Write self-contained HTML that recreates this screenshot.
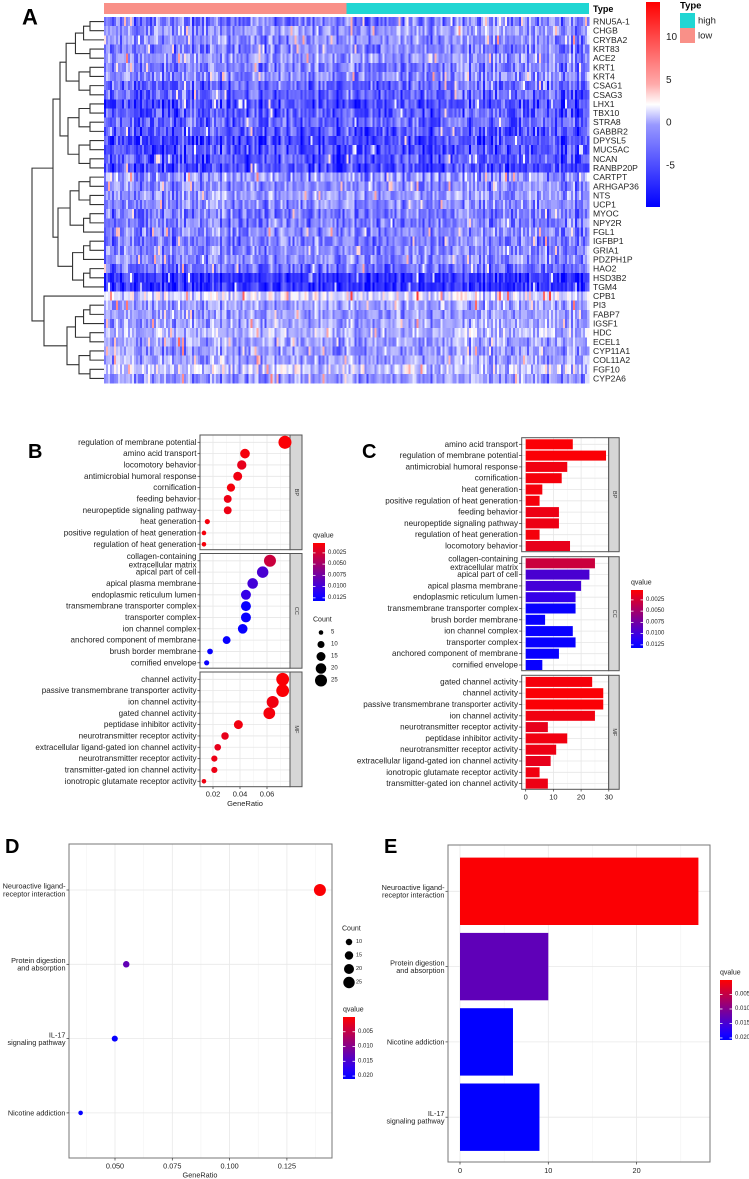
<!DOCTYPE html>
<html><head><meta charset="utf-8"><style>
html,body{margin:0;padding:0;background:#fff;}
body{width:749px;height:1179px;overflow:hidden;position:relative;font-family:"Liberation Sans",Arial,sans-serif;}
svg{position:absolute;left:0;top:0;}
</style></head><body>
<svg id="fig" width="749" height="1179" viewBox="0 0 749 1179" xmlns="http://www.w3.org/2000/svg" font-family="Liberation Sans, Arial, sans-serif"></svg>
<script>
// ---------- DATA ----------
const genes=["RNU5A-1","CHGB","CRYBA2","KRT83","ACE2","KRT1","KRT4","CSAG1","CSAG3","LHX1","TBX10","STRA8","GABBR2","DPYSL5","MUC5AC","NCAN","RANBP20P","CARTPT","ARHGAP36","NTS","UCP1","MYOC","NPY2R","FGL1","IGFBP1","GRIA1","PDZPH1P","HAO2","HSD3B2","TGM4","CPB1","PI3","FABP7","IGSF1","HDC","ECEL1","CYP11A1","COL11A2","FGF10","CYP2A6"];
const geneMeans=[-4,-3,-3.5,-4,-3,-4,-3.5,-5,-5,-6,-5.5,-5,-5.5,-6,-6,-5.5,-6,-3,-3.5,-3,-3.5,-4,-4,-3.5,-4,-3.5,-3.5,-4.5,-7,-7,0,-2.5,-3,-2.5,-1.5,-2.5,-3,-2.5,-1,-3];
const geneSpread=[3,3,3,3,3,3,3,3,3,3,3,3,3,3,3,3,3,4,3,3,3,3,3,3,3,3,3,3,2,2,4,3,3,3,3,3,3,3,4,3];
const heatTicks=[10,5,0,-5];

const bpTerms=["regulation of membrane potential","amino acid transport","locomotory behavior","antimicrobial humoral response","cornification","feeding behavior","neuropeptide signaling pathway","heat generation","positive regulation of heat generation","regulation of heat generation"];
const bpRatio=[0.0733,0.0437,0.0413,0.0383,0.0333,0.0309,0.0309,0.0158,0.0133,0.0133];
const bpCount=[29,17,16,15,13,12,12,6,5,5];
const bpQ=[0.0005,0.0008,0.0015,0.001,0.0008,0.0012,0.0012,0.0008,0.0008,0.0008];
const ccTerms=["collagen-containing\nextracellular matrix","apical part of cell","apical plasma membrane","endoplasmic reticulum lumen","transmembrane transporter complex","transporter complex","ion channel complex","anchored component of membrane","brush border membrane","cornified envelope"];
const ccRatio=[0.0622,0.0568,0.0494,0.0444,0.0444,0.0444,0.042,0.0301,0.0178,0.0153];
const ccCount=[25,23,20,18,18,18,17,12,7,6];
const ccQ=[0.003,0.0095,0.0098,0.0105,0.0128,0.0128,0.0128,0.0128,0.0128,0.0128];
const mfTerms=["channel activity","passive transmembrane transporter activity","ion channel activity","gated channel activity","peptidase inhibitor activity","neurotransmitter receptor activity","extracellular ligand-gated ion channel activity","neurotransmitter receptor activity","transmitter-gated ion channel activity","ionotropic glutamate receptor activity"];
const mfRatio=[0.0716,0.0716,0.0642,0.0617,0.0388,0.0289,0.0235,0.021,0.021,0.0133];
const mfCount=[28,28,25,24,15,11,9,8,8,5];
const mfQ=[0.0005,0.0005,0.001,0.0008,0.001,0.0015,0.0015,0.0012,0.0012,0.001];
const bTicks=[0.02,0.04,0.06];

const cBpTerms=["amino acid transport","regulation of membrane potential","antimicrobial humoral response","cornification","heat generation","positive regulation of heat generation","feeding behavior","neuropeptide signaling pathway","regulation of heat generation","locomotory behavior"];
const cBpCount=[17,29,15,13,6,5,12,12,5,16];
const cBpQ=[0.0005,0.0005,0.001,0.0008,0.0008,0.0008,0.0012,0.0012,0.0008,0.0015];
const cCcTerms=["collagen-containing\nextracellular matrix","apical part of cell","apical plasma membrane","endoplasmic reticulum lumen","transmembrane transporter complex","brush border membrane","ion channel complex","transporter complex","anchored component of membrane","cornified envelope"];
const cCcCount=[25,23,20,18,18,7,17,18,12,6];
const cCcQ=[0.003,0.0095,0.0098,0.0105,0.0128,0.0128,0.0128,0.0128,0.0128,0.0128];
const cMfTerms=["gated channel activity","channel activity","passive transmembrane transporter activity","ion channel activity","neurotransmitter receptor activity","peptidase inhibitor activity","neurotransmitter receptor activity","extracellular ligand-gated ion channel activity","ionotropic glutamate receptor activity","transmitter-gated ion channel activity"];
const cMfCount=[24,28,28,25,8,15,11,9,5,8];
const cMfQ=[0.0008,0.0005,0.0005,0.001,0.0015,0.001,0.0012,0.0015,0.001,0.0012];
const cTicks=[0,10,20,30];

const keggTerms=["Neuroactive ligand-\nreceptor interaction","Protein digestion\nand absorption","IL-17\nsignaling pathway","Nicotine addiction"];
const keggRatio=[0.1394,0.0549,0.0499,0.035];
const keggCount=[27,10,9,6];
const keggQ=[0.0003,0.013,0.0205,0.0205];
const dTicks=[0.05,0.075,0.1,0.125];
const eTerms=["Neuroactive ligand-\nreceptor interaction","Protein digestion\nand absorption","Nicotine addiction","IL-17\nsignaling pathway"];
const eCount=[27,10,6,9];
const eQ=[0.0003,0.013,0.0205,0.0205];
const eTicks=[0,10,20];

// ---------- HELPERS ----------
const NS="http://www.w3.org/2000/svg";
const svg=document.getElementById("fig");
function mk(tag,attrs,parent){const e=document.createElementNS(NS,tag);for(const k in attrs)e.setAttribute(k,attrs[k]);(parent||svg).appendChild(e);return e;}
function txt(x,y,s,size,anchor,parent,extra){
  const lines=String(s).split("\n");const g=[];
  lines.forEach((l,i)=>{const t=mk("text",Object.assign({x:x,y:y+(i-(lines.length-1)/2)*size*1.05,"font-size":size,"text-anchor":anchor||"start","dominant-baseline":"central",fill:"#222"},extra||{}),parent);t.textContent=l;g.push(t);});
  return g[0];
}
function qColor(q,lo,hi){let t=(q-lo)/(hi-lo);t=Math.max(0,Math.min(1,t));const r=Math.round(255*(1-t)),b=Math.round(255*Math.min(1,t*1.15)),gg=0;return `rgb(${r},${gg},${b})`;}
function hash(a,b){let h=(a*374761393+b*668265263)^0x5bd1e995;h=(h^(h>>>13))*1274126177;h=h^(h>>>16);return ((h>>>0)%10000)/10000;}

// ---------- PANEL A: HEATMAP ----------
const gA=mk("g",{});


const lA=txt(22,17,"A",22,"start",gA,{"font-weight":"bold",fill:"#000"});


const HX0=104,HX1=589,HY0=17,nCols=242,rowH=(383-17)/genes.length,colW=(HX1-HX0)/nCols;
const annLow=mk("rect",{x:HX0,y:3,width:(HX1-HX0)/2,height:11,fill:"#f99088"},gA);


const annHigh=mk("rect",{x:HX0+(HX1-HX0)/2,y:3,width:(HX1-HX0)/2,height:11,fill:"#20d6d3"},gA);


const annT=txt(593,9,"Type",9,"start",gA,{"font-weight":"bold",fill:"#000"});


function heatColor(v){if(v<=1){let t=(v+9)/10;t=Math.max(0,Math.min(1,t));const c=Math.round(255*t);return `rgb(${c},${c},255)`;}let t=(v-1)/12;t=Math.max(0,Math.min(1,t));const c=Math.round(255*(1-t));return `rgb(255,${c},${c})`;}
const cells=mk("g",{"shape-rendering":"crispEdges"},gA);


genes.forEach((g,r)=>{
  for(let c=0;c<nCols;c++){
    const n=hash(r+1,c+7)*2-1, sp=hash(c+3,r*31+5), ce=hash(c+11,999)*2-1;
    let v=geneMeans[r]+n*geneSpread[r]*0.75+ce*1.6;
    if(sp>0.97) v+=7;
    const cell=mk("rect",{x:(HX0+c*colW).toFixed(2),y:(HY0+r*rowH).toFixed(2),width:(colW+0.3).toFixed(2),height:(rowH+0.3).toFixed(2),fill:heatColor(v)},cells);
  }
  const gl=txt(HX1+4,HY0+(r+0.5)*rowH,g,8.6,"start",gA,{fill:"#222"});
  
  
});
// dendrogram
const dend=mk("g",{stroke:"#333","stroke-width":1.1,fill:"none"},gA);


function rowY(i){return HY0+(i+0.5)*rowH;}
function build(lo,hi,forceX){
  if(lo===hi) return {x:HX0,y:rowY(lo)};
  const n=hi-lo+1;const mid=Math.floor((lo+hi)/2);
  const a=build(lo,mid),b=build(mid+1,hi);
  const x=forceX!==undefined?forceX:HX0-3-11*Math.log2(n);
  return join(a,b,x);
}
function join(a,b,x){mk("path",{d:`M${a.x},${a.y}H${x}V${b.y}H${b.x}`},dend);return {x:x,y:(a.y+b.y)/2};}
const A1=build(0,16,60),A2=build(17,29,58);
const An=join(A1,A2,53);
const B0={x:HX0,y:rowY(30)};const B1=build(31,39,67);
const Bn=join(B0,B1,44);
join(An,Bn,32);
// color legend
const defs=mk("defs",{});
const lg=mk("linearGradient",{id:"heatgrad",x1:0,y1:1,x2:0,y2:0},defs);
[[0,"#0000ff"],[0.4,"#9898ff"],[0.5,"#ffffff"],[0.6,"#ffaaaa"],[1,"#ff0000"]].forEach(s=>mk("stop",{offset:s[0],"stop-color":s[1]},lg));
const hb=mk("rect",{x:646,y:2,width:14,height:205,fill:"url(#heatgrad)"},gA);


function heatLegY(v){return 123-v*8.55;}
heatTicks.forEach(v=>{const t=txt(666,heatLegY(v),String(v),10,"start",gA,{fill:"#222"});

});
const tt=txt(680,6,"Type",9.5,"start",gA,{"font-weight":"bold",fill:"#000"});


const lh=mk("rect",{x:680,y:13,width:15,height:15,fill:"#20d6d3"},gA);


const ll=mk("rect",{x:680,y:28,width:15,height:15,fill:"#f99088"},gA);


const lht=txt(698,21,"high",9.5,"start",gA);


const llt=txt(698,36,"low",9.5,"start",gA);



// ---------- shared gradient for q legends ----------
const qg=mk("linearGradient",{id:"qgrad",x1:0,y1:0,x2:0,y2:1},defs);
for(let i=0;i<=10;i++)mk("stop",{offset:i/10,"stop-color":qColor(i/10,0,1)},qg);
function qLegend(parent,x,y,h,lo,hi,ticks,fmt,name){
  const t=txt(x,y-7,"qvalue",7,"start",parent);
  
  
  const r=mk("rect",{x:x,y:y,width:12,height:h,fill:"url(#qgrad)"},parent);
  
  
  ticks.forEach(v=>{const yy=y+(v-lo)/(hi-lo)*h;
    mk("line",{x1:x,x2:x+2.5,y1:yy,y2:yy,stroke:"#fff","stroke-width":0.8},parent);
    mk("line",{x1:x+9.5,x2:x+12,y1:yy,y2:yy,stroke:"#fff","stroke-width":0.8},parent);
    const l=txt(x+15,yy,fmt(v),6,"start",parent);
    
    });
}

// ---------- PANEL B ----------
const gB=mk("g",{});


const lB=txt(28,452,"B",20,"start",gB,{"font-weight":"bold",fill:"#000"});


const bx=v=>213+(v-0.02)*1350;
const bR=c=>1.34*Math.sqrt(c)-0.7;
function facetFrame(parent,x0,x1,top,h,strip,label,vgrid,minor,n,step,off){
  mk("rect",{x:x0,y:top,width:x1-x0,height:h,fill:"#fff"},parent);
  minor.forEach(v=>mk("line",{x1:v,x2:v,y1:top,y2:top+h,stroke:"#f2f2f2","stroke-width":0.5},parent));
  vgrid.forEach(v=>mk("line",{x1:v,x2:v,y1:top,y2:top+h,stroke:"#e6e6e6","stroke-width":0.8},parent));
  for(let i=0;i<n;i++){const y=top+off+i*step;mk("line",{x1:x0,x2:x1,y1:y,y2:y,stroke:"#e6e6e6","stroke-width":0.8},parent);}
  mk("rect",{x:x0,y:top,width:x1-x0,height:h,fill:"none",stroke:"#555","stroke-width":1},parent);
  const s=mk("rect",{x:x1,y:top,width:strip,height:h,fill:"#d6d6d6",stroke:"#555","stroke-width":1},parent);
  
  
  const t=txt(0,0,label,5.5,"middle",parent,{transform:`translate(${x1+strip/2},${top+h/2}) rotate(90)`,fill:"#333"});
  
  
}
const bFacets=[[bpTerms,bpRatio,bpCount,bpQ,"BP",435],[ccTerms,ccRatio,ccCount,ccQ,"CC",553.5],[mfTerms,mfRatio,mfCount,mfQ,"MF",672]];
bFacets.forEach(f=>{
  const [terms,ratio,count,q,lab,top]=f;
  facetFrame(gB,200,290,top,114.7,12,lab,bTicks.map(bx),[0.01,0.03,0.05,0.07].map(bx),terms.length,11.33,7.3);
  terms.forEach((t,i)=>{const y=top+7.3+i*11.33;
    mk("line",{x1:197.5,x2:200,y1:y,y2:y,stroke:"#333","stroke-width":0.7},gB);
    const tl=txt(196.5,y,t,8.1,"end",gB,{fill:"#222"});
    
    
    const d=mk("circle",{cx:bx(ratio[i]),cy:y,r:bR(count[i]),fill:qColor(q[i],0.0003,0.0132)},gB);
    
    
  });
});
bTicks.forEach(v=>{mk("line",{x1:bx(v),x2:bx(v),y1:786.7,y2:789,stroke:"#333","stroke-width":0.7},gB);
  const t=txt(bx(v),794,String(v),7.5,"middle",gB);
  
  });
const bxt=txt(245,803.5,"GeneRatio",7.5,"middle",gB);


qLegend(gB,313,543,58,0.0003,0.0132,[0.0025,0.005,0.0075,0.01,0.0125],v=>v.toFixed(4),"b-qvalue-legend");
const bct=txt(313,620,"Count",7,"start",gB);


[5,10,15,20,25].forEach((c,i)=>{const y=632.5+i*12;
  const d=mk("circle",{cx:321,cy:y,r:bR(c),fill:"#000"},gB);
  
  
  const l=txt(331,y,String(c),6,"start",gB);
  
  });

// ---------- PANEL C ----------
const gC=mk("g",{});


const lC=txt(362,452,"C",20,"start",gC,{"font-weight":"bold",fill:"#000"});


const cx=v=>525.7+v*2.77;
const cFacets=[[cBpTerms,cBpCount,cBpQ,"BP",437.7],[cCcTerms,cCcCount,cCcQ,"CC",556.7],[cMfTerms,cMfCount,cMfQ,"MF",675.3]];
cFacets.forEach(f=>{
  const [terms,count,q,lab,top]=f;
  facetFrame(gC,521.7,608.7,top,114,10.5,lab,cTicks.map(cx),[5,15,25].map(cx),terms.length,11.3,6.6);
  terms.forEach((t,i)=>{const y=top+6.6+i*11.3;
    mk("line",{x1:519,x2:521.7,y1:y,y2:y,stroke:"#333","stroke-width":0.7},gC);
    const tl=txt(518,y,t,8.1,"end",gC,{fill:"#222"});
    
    
    const b=mk("rect",{x:cx(0),y:y-5,width:cx(count[i])-cx(0),height:10,fill:qColor(q[i],0.0003,0.0132)},gC);
    
    
  });
});
cTicks.forEach(v=>{mk("line",{x1:cx(v),x2:cx(v),y1:789.3,y2:791.5,stroke:"#333","stroke-width":0.7},gC);
  const t=txt(cx(v),797,String(v),7.5,"middle",gC);
  
  });
qLegend(gC,631,590,58,0.0003,0.0132,[0.0025,0.005,0.0075,0.01,0.0125],v=>v.toFixed(4),"c-qvalue-legend");

// ---------- PANEL D ----------
const gD=mk("g",{});


const lD=txt(5,847,"D",20,"start",gD,{"font-weight":"bold",fill:"#000"});


const dx=v=>115+(v-0.05)*2292;
const dy=i=>890+i*74.3;
const dR=c=>1.345*Math.sqrt(c)-1.0;
mk("rect",{x:69,y:844,width:263,height:314,fill:"#fff"},gD);
[0.0375,0.0625,0.0875,0.1125,0.1375].forEach(v=>mk("line",{x1:dx(v),x2:dx(v),y1:844,y2:1158,stroke:"#f3f3f3","stroke-width":0.6},gD));
dTicks.forEach(v=>mk("line",{x1:dx(v),x2:dx(v),y1:844,y2:1158,stroke:"#e8e8e8","stroke-width":0.8},gD));
keggTerms.forEach((t,i)=>mk("line",{x1:69,x2:332,y1:dy(i),y2:dy(i),stroke:"#e8e8e8","stroke-width":0.8},gD));
const dfr=mk("rect",{x:69,y:844,width:263,height:314,fill:"none",stroke:"#777","stroke-width":1},gD);


keggTerms.forEach((t,i)=>{
  mk("line",{x1:66.5,x2:69,y1:dy(i),y2:dy(i),stroke:"#333","stroke-width":0.7},gD);
  const tl=txt(65.5,dy(i),t,7.3,"end",gD);
  
  
  const d=mk("circle",{cx:dx(keggRatio[i]),cy:dy(i),r:dR(keggCount[i]),fill:qColor(keggQ[i],0,0.021)},gD);
  
  
});
dTicks.forEach(v=>{mk("line",{x1:dx(v),x2:dx(v),y1:1158,y2:1160.5,stroke:"#333","stroke-width":0.7},gD);
  const t=txt(dx(v),1166,v.toFixed(3),7.3,"middle",gD);
  
  });
const dxt=txt(200,1175,"GeneRatio",7.3,"middle",gD);


const dct=txt(342,929,"Count",7,"start",gD);


[10,15,20,25].forEach((c,i)=>{const y=942+i*13.5;
  const d=mk("circle",{cx:349,cy:y,r:dR(c),fill:"#000"},gD);
  
  
  const l=txt(356,y,String(c),5.5,"start",gD);
  
  });
qLegend(gD,343,1017,62,0,0.021,[0.005,0.01,0.015,0.02],v=>v.toFixed(3),"d-qvalue-legend");

// ---------- PANEL E ----------
const gE=mk("g",{});


const lE=txt(384,847,"E",20,"start",gE,{"font-weight":"bold",fill:"#000"});


const ex=v=>460+v*8.83;
const ey=i=>891.3+i*75.3;
mk("rect",{x:448,y:845,width:262,height:317,fill:"#fff"},gE);
[5,15,25].forEach(v=>mk("line",{x1:ex(v),x2:ex(v),y1:845,y2:1162,stroke:"#f3f3f3","stroke-width":0.6},gE));
eTicks.forEach(v=>mk("line",{x1:ex(v),x2:ex(v),y1:845,y2:1162,stroke:"#e8e8e8","stroke-width":0.8},gE));
eTerms.forEach((t,i)=>mk("line",{x1:448,x2:710,y1:ey(i),y2:ey(i),stroke:"#e8e8e8","stroke-width":0.8},gE));
eTerms.forEach((t,i)=>{
  mk("line",{x1:445.5,x2:448,y1:ey(i),y2:ey(i),stroke:"#333","stroke-width":0.7},gE);
  const tl=txt(444.5,ey(i),t,7.3,"end",gE);
  
  
  const b=mk("rect",{x:ex(0),y:ey(i)-33.7,width:ex(eCount[i])-ex(0),height:67.4,fill:qColor(eQ[i],0,0.0207)},gE);
  
  
});
const efr=mk("rect",{x:448,y:845,width:262,height:317,fill:"none",stroke:"#777","stroke-width":1},gE);


eTicks.forEach(v=>{mk("line",{x1:ex(v),x2:ex(v),y1:1162,y2:1164.5,stroke:"#333","stroke-width":0.7},gE);
  const t=txt(ex(v),1170.5,String(v),7.3,"middle",gE);
  
  });
qLegend(gE,720,980,60,0,0.0207,[0.005,0.01,0.015,0.02],v=>v.toFixed(3),"e-qvalue-legend");
</script>
</body></html>
